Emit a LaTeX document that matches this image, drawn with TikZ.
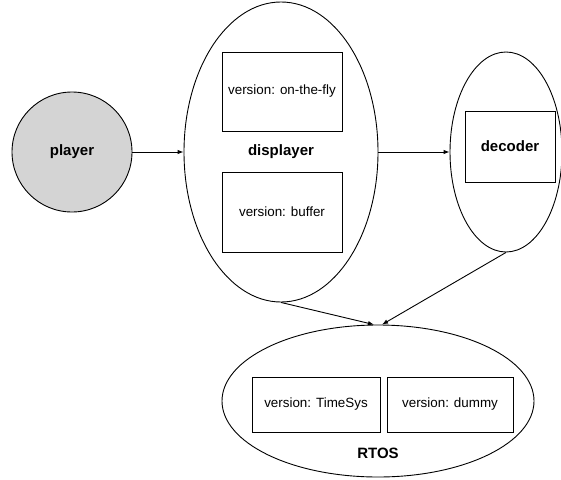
\documentclass[tikz,border=0pt]{standalone}
\usepackage{fontspec}
\setmainfont{Liberation Sans}
\usetikzlibrary{shapes.geometric,arrows.meta}
\tikzstyle{line} = [draw, -{Latex[length=6pt,width=4.5pt]}]
\tikzstyle{part} = [draw, ellipse, inner sep=0pt, font=\fontsize{15}{18}\selectfont\bfseries]
\tikzstyle{version} = [draw, rectangle, text centered, inner sep=0pt, fill=white, font=\fontsize{13.4}{16}\selectfont]
\tikzstyle{title} = [font=\fontsize{15}{18}\selectfont\bfseries]

\begin{document}
\begin{tikzpicture}[x=1pt, y=-1pt, line width=0.9pt]
        \useasboundingbox (0,0) rectangle (561,479);
        \node[draw, circle, fill=black!17, minimum size=120pt, inner sep=0pt, title] (player) at (72,152) {player};
        \node[part, minimum width=194pt, minimum height=300pt] (displayer) at (281,152) {displayer};
        \node[version, minimum width=120pt, minimum height=79pt] (onthefly) at (282,91.5) {version: on-the-fly};
        \node[version, minimum width=120pt, minimum height=80pt] (buffer) at (282,212) {version: buffer};
        \node[part, minimum width=112pt, minimum height=200pt] (decoder) at (506,152) {};
        \node[version, minimum width=90pt, minimum height=71pt, title] (decbox) at (510,146.5) {decoder};
        \node[part, minimum width=312pt, minimum height=152pt] (rtos) at (378,401) {};
        \node[version, minimum width=128pt, minimum height=55pt] (timesys) at (316,404.5) {version: TimeSys};
        \node[version, minimum width=126pt, minimum height=55pt] (dummy) at (450,404.5) {version: dummy};
        \node[title] (rtoslabel) at (378,453) {RTOS};
        \path[line] (player) -- (displayer);
        \path[line] (displayer) -- (decoder);
        \path[line] (displayer.south) -- (rtos.93);
        \path[line] (decoder.south) -- (rtos.87);
    \end{tikzpicture}
\end{document}
